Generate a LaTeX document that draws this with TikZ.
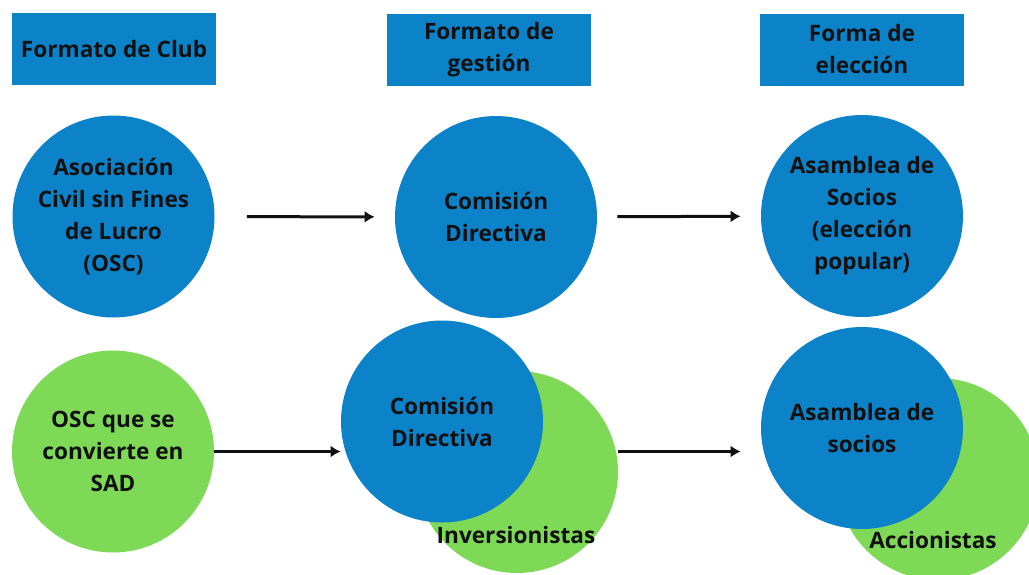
\documentclass[tikz,border=0pt]{standalone}
\usepackage{fontspec}
\setmainfont{Open Sans}
\usetikzlibrary{arrows.meta}
\definecolor{clubblue}{HTML}{0C83C9}
\definecolor{clubgreen}{HTML}{7ED957}
\definecolor{ink}{HTML}{111111}
\tikzset{
  txt/.style={font=\bfseries\fontsize{11.3pt}{16pt}\selectfont, text=ink, align=center, inner sep=0pt},
  head/.style={txt, fill=clubblue, minimum width=102pt, minimum height=36pt},
  bluedot/.style={txt, circle, fill=clubblue, minimum size=101pt},
  greendot/.style={txt, circle, fill=clubgreen, minimum size=101pt},
  arr/.style={-{Latex[length=5pt,width=6pt]}, line width=1.5pt, draw=ink}
}
\begin{document}
\begin{tikzpicture}[x=0.5pt, y=-0.5pt]
\clip (0,0) rectangle (1029,574);
\fill[white] (0,0) rectangle (1029,574);
\begin{scope}
  \node[head] (h1) at (114,49) {Formato de Club};
  \node[head] (h2) at (489,49.5) {Formato de\\gestión};
  \node[head] (h3) at (862,49.5) {Forma de\\elección};
\end{scope}
\begin{scope}
  \node[bluedot] (osc) at (113.5,216.5) {Asociación\\Civil sin Fines\\de Lucro\\(OSC)};
  \node[bluedot] (cd1) at (496,217) {Comisión\\Directiva};
  \node[bluedot] (as1) at (862,216) {Asamblea de\\Socios\\(elección\\popular)};
  \draw[arr, shorten <=16pt, shorten >=10pt] (osc) -- (cd1);
  \draw[arr, shorten <=10pt, shorten >=10pt] (cd1) -- (as1);
\end{scope}
\begin{scope}
  \node[greendot] (sad) at (113,451.5) {OSC que se\\convierte en\\SAD};
  \node[greendot] (inv) at (517,472) {};
  \node[txt] (invtxt) at (516,535) {Inversionistas};
  \node[bluedot] (cd2) at (442,421.5) {Comisión\\Directiva};
  \node[greendot] (acc) at (938,479) {};
  \node[txt] (acctxt) at (933,540) {Accionistas};
  \node[bluedot] (as2) at (862,428) {Asamblea de\\socios};
  \draw[arr] (sad.east) -- (sad.east -| cd2.west);
  \draw[arr, shorten >=10pt] (sad.east -| inv.east) -- (sad.east -| as2.west);
\end{scope}
\end{tikzpicture}
\end{document}
